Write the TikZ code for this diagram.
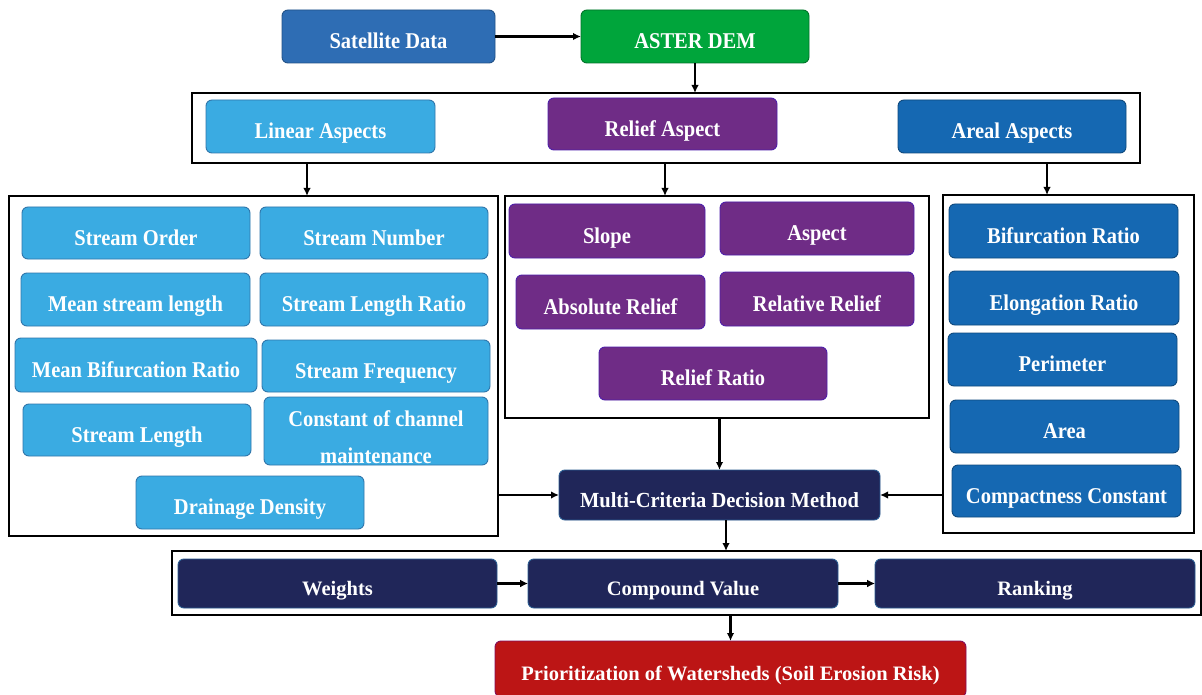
\documentclass[tikz,border=0pt]{standalone}
\usepackage{fontspec}
\setmainfont{Liberation Serif}
\usetikzlibrary{arrows.meta}
\definecolor{cSat}{HTML}{2E6DB4}
\definecolor{cGreen}{HTML}{00A53B}
\definecolor{cLight}{HTML}{3AABE2}
\definecolor{cPurple}{HTML}{6F2C86}
\definecolor{cBlue}{HTML}{1568B2}
\definecolor{cNavy}{HTML}{202659}
\definecolor{cRed}{HTML}{BC1515}
\tikzset{
  box/.style={rounded corners=6pt, inner sep=0pt, outer sep=0pt, line width=0.9pt},
  lbl/.style={text=white, inner sep=0pt, anchor=base, align=center,
    font=\bfseries\fontsize{20.5}{37}\selectfont},
  satbox/.style={box, fill=cSat, draw=cSat!75!black},
  greenbox/.style={box, fill=cGreen, draw=cGreen!70!black},
  lightbox/.style={box, fill=cLight, draw=cLight!60!cNavy},
  purplebox/.style={box, fill=cPurple, draw=cPurple!70!blue},
  bluebox/.style={box, fill=cBlue, draw=cBlue!70!black},
  navybox/.style={box, fill=cNavy, draw=cNavy!60!cLight},
  redbox/.style={box, fill=cRed, draw=cRed!70!blue},
  container/.style={draw=black, line width=1.8pt, inner sep=0pt, outer sep=0pt},
  arr/.style={-{Latex[length=8pt,width=7.5pt]}, line width=2.4pt, draw=black},
  arrthick/.style={-{Latex[length=8pt,width=8pt]}, line width=2.8pt, draw=black}
}
% \bx{style}{name}{x1}{y1}{x2}{y2}{text}{yscale}
\newcommand{\bx}[8]{%
  \pgfmathsetmacro\bxcx{(#3+#5)/2}%
  \pgfmathsetmacro\bxcy{(#4+#6)/2}%
  \pgfmathsetmacro\bxw{#5-#3}%
  \pgfmathsetmacro\bxh{#6-#4}%
  \pgfmathsetmacro\bxb{\bxcy+5+0.331*20.5*#8}%
  \node[#1, minimum width=\bxw pt, minimum height=\bxh pt] (#2) at (\bxcx,\bxcy) {};%
  \node[lbl] (#2-t) at (\bxcx,\bxb) {\scalebox{1}[#8]{#7}};%
}
\newcommand{\cbox}[5]{%
  \pgfmathsetmacro\bxcx{(#2+#4)/2}%
  \pgfmathsetmacro\bxcy{(#3+#5)/2}%
  \pgfmathsetmacro\bxw{#4-#2}%
  \pgfmathsetmacro\bxh{#5-#3}%
  \node[container, minimum width=\bxw pt, minimum height=\bxh pt] (#1) at (\bxcx,\bxcy) {};%
}
\begin{document}
\begin{tikzpicture}[x=1pt,y=-1pt]
\useasboundingbox (0,0) rectangle (1202,695);
\fill[white] (0,0) rectangle (1202,695);

% containers
\cbox{c1}{192}{93}{1140}{163}
\cbox{lc}{9}{196}{498}{536}
\cbox{mc}{505}{196}{929}{418}
\cbox{rc}{943}{195}{1194}{533}
\cbox{c3}{172}{551}{1201}{615}

% top
\bx{satbox}{sat}{282}{10}{495}{63}{Satellite Data}{1.1}
\bx{greenbox}{aster}{581}{10}{809}{63}{ASTER DEM}{1.1}

\bx{lightbox}{linear}{206}{100}{435}{153}{Linear Aspects}{1.1}
\bx{purplebox}{relief}{548}{98}{777}{150}{Relief Aspect}{1.1}
\bx{bluebox}{areal}{898}{100}{1126}{153}{Areal Aspects}{1.1}

% linear
\bx{lightbox}{so}{22}{207}{250}{259}{Stream Order}{1.1}
\bx{lightbox}{sn}{260}{207}{488}{259}{Stream Number}{1.1}
\bx{lightbox}{msl}{21}{273}{250}{326}{Mean stream length}{1.1}
\bx{lightbox}{slr}{260}{273}{488}{326}{Stream Length Ratio}{1.1}
\bx{lightbox}{mbr}{15}{338}{257}{392}{Mean Bifurcation Ratio}{1.1}
\bx{lightbox}{sf}{262}{340}{490}{392}{Stream Frequency}{1.1}
\bx{lightbox}{sl}{23}{404}{251}{456}{Stream Length}{1.1}
\node[lightbox, minimum width=224pt, minimum height=68pt] (ccm) at (376,431) {};
\node[lbl, anchor=center] (ccm-t) at (376,437) {\scalebox{1}[1.1]{Constant of channel}\\\scalebox{1}[1.1]{maintenance}};
\bx{lightbox}{dd}{136}{476}{364}{529}{Drainage Density}{1.1}

% relief
\bx{purplebox}{slope}{509}{204}{705}{258}{Slope}{1.1}
\bx{purplebox}{asp}{720}{202}{914}{255}{Aspect}{1.1}
\bx{purplebox}{ar}{516}{275}{705}{329}{Absolute Relief}{1.1}
\bx{purplebox}{rr}{720}{272}{914}{326}{Relative Relief}{1.1}
\bx{purplebox}{rrat}{599}{347}{827}{400}{Relief Ratio}{1.1}

% areal
\bx{bluebox}{br}{949}{204}{1178}{258}{Bifurcation Ratio}{1.1}
\bx{bluebox}{er}{949}{271}{1179}{325}{Elongation Ratio}{1.1}
\bx{bluebox}{per}{948}{333}{1177}{386}{Perimeter}{1.1}
\bx{bluebox}{area}{950}{400}{1179}{453}{Area}{1.1}
\bx{bluebox}{cc}{952}{465}{1181}{517}{Compactness Constant}{1.1}

% MCDM
\bx{navybox}{mcdm}{559}{470}{880}{520}{Multi-Criteria Decision Method}{1.05}

% bottom row
\bx{navybox}{w}{178}{559}{497}{608}{Weights}{1.0}
\bx{navybox}{cv}{528}{559}{838}{608}{Compound Value}{1.0}
\bx{navybox}{rank}{875}{559}{1195}{608}{Ranking}{1.0}

\bx{redbox}{prio}{495}{641}{966}{697}{Prioritization of Watersheds (Soil Erosion Risk)}{1.0}

% coordinates for arrow positions
\coordinate (t1) at (307,0);
\coordinate (t2) at (665,0);
\coordinate (t3) at (1047,0);
\coordinate (t4) at (726,0);
\coordinate (t5) at (695,0);

% arrows
\draw[arr] (sat.east) -- (aster.west);
\draw[arr] (aster.south -| t5) -- (c1.north -| t5);
\draw[arr] (c1.south -| t1) -- (lc.north -| t1);
\draw[arr] (c1.south -| t2) -- (mc.north -| t2);
\draw[arr] (c1.south -| t3) -- (rc.north -| t3);
\draw[arr] (mc.south -| mcdm.north) -- (mcdm.north);
\draw[arr] (lc.east |- mcdm.west) -- (mcdm.west);
\draw[arr] (rc.west |- mcdm.east) -- (mcdm.east);
\draw[arr] (mcdm.south -| t4) -- (c3.north -| t4);
\draw[arrthick] (w.east) -- (cv.west);
\draw[arrthick] (cv.east) -- (rank.west);
\draw[arr] (c3.south -| prio.north) -- (prio.north);
\end{tikzpicture}
\end{document}
